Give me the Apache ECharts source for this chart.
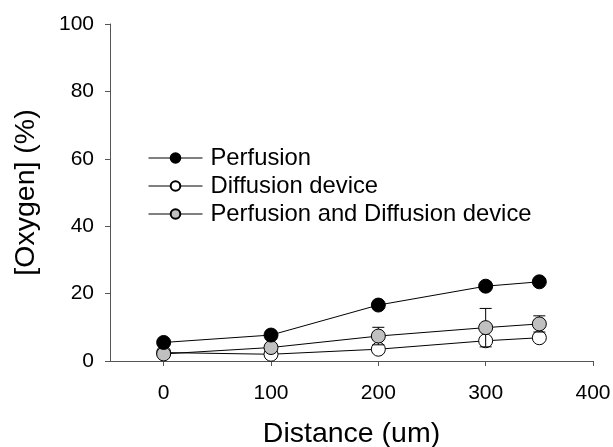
<!DOCTYPE html>
<html><head><meta charset="utf-8">
<script src="https://cdn.jsdelivr.net/npm/echarts@6/dist/echarts.min.js"></script>
<style>html,body{margin:0;padding:0;background:#fff}#c{width:613px;height:447px}</style>
</head><body><div id="c"></div>
<script>
const distances = [0, 100, 200, 300, 350];
const perfusion = [5.5, 7.7, 16.6, 22.2, 23.5];
const diffusion = [2.5, 2.0, 3.5, 6.0, 6.9];
const combined = [2.1, 4.0, 7.4, 9.9, 11.0];
const combinedErr = [0, 0, 2.6, 5.7, 2.4];
const seriesNames = ['Perfusion', 'Diffusion device', 'Perfusion and Diffusion device'];
const xTicks = [0, 100, 200, 300, 400];
const yTicks = [0, 20, 40, 60, 80, 100];

const font = 'Liberation Sans, Arial, sans-serif';
const pairs = a => distances.map((d, i) => [d, a[i]]);
const errData = distances.map((d, i) => [d, combined[i] - combinedErr[i], combined[i] + combinedErr[i]]).filter((r, i) => combinedErr[i] > 0);

const chart = echarts.init(document.getElementById('c'));
const lineStyle = {color: '#000', width: 1};
chart.setOption({
  animation: false,
  grid: {left: 110, right: 20, top: 24, bottom: 86, containLabel: false, outerBoundsMode: 'none'},
  legend: {
    orient: 'vertical', left: 143, top: 141, itemWidth: 54, itemHeight: 12, itemGap: 4,
    lineStyle: {width: 1, color: '#000'},
    textStyle: {fontFamily: font, fontSize: 23.8, color: '#000', padding: [0, 0, 0, 3]},
    data: seriesNames
  },
  xAxis: {
    type: 'value', min: -50, max: 400, interval: 50,
    name: 'Distance (um)', nameLocation: 'middle', nameGap: 59,
    nameTextStyle: {fontFamily: font, fontSize: 28.5, color: '#000'},
    axisLine: {onZero: false, lineStyle: {color: '#555', width: 1}},
    axisTick: {show: true, length: 5, lineStyle: {color: '#555'}, customValues: xTicks},
    axisLabel: {fontFamily: font, fontSize: 21, color: '#000', margin: 22, customValues: xTicks},
    splitLine: {show: false}
  },
  yAxis: {
    type: 'value', min: 0, max: 100, interval: 20,
    name: '[Oxygen] (%)', nameLocation: 'middle', nameGap: 69, nameRotate: 90,
    nameTextStyle: {fontFamily: font, fontSize: 28.5, color: '#000'},
    axisLine: {show: true, onZero: false, lineStyle: {color: '#555', width: 1}},
    axisTick: {show: true, length: 5, lineStyle: {color: '#555'}},
    axisLabel: {fontFamily: font, fontSize: 21, color: '#000', margin: 16},
    splitLine: {show: false}
  },
  series: [
    {name: seriesNames[1], type: 'line', data: pairs(diffusion), symbol: 'circle', symbolSize: 14,
     lineStyle, itemStyle: {color: '#fff', borderColor: '#000', borderWidth: 1}, z: 2},
    {type: 'custom', data: errData, z: 3, silent: true,
     renderItem: (params, api) => {
       const lo = api.coord([api.value(0), api.value(1)]);
       const hi = api.coord([api.value(0), api.value(2)]);
       const w = 6;
       return {type: 'group', children: [
         {type: 'line', shape: {x1: lo[0], y1: lo[1], x2: hi[0], y2: hi[1]}, style: {stroke: '#000', lineWidth: 1}},
         {type: 'line', shape: {x1: hi[0]-w, y1: hi[1], x2: hi[0]+w, y2: hi[1]}, style: {stroke: '#000', lineWidth: 1}},
         {type: 'line', shape: {x1: lo[0]-w, y1: lo[1], x2: lo[0]+w, y2: lo[1]}, style: {stroke: '#000', lineWidth: 1}}
       ]};
     }},
    {name: seriesNames[2], type: 'line', data: pairs(combined), symbol: 'circle', symbolSize: 14,
     lineStyle, itemStyle: {color: '#c0c0c0', borderColor: '#000', borderWidth: 1}, z: 4},
    {name: seriesNames[0], type: 'line', data: pairs(perfusion), symbol: 'circle', symbolSize: 14,
     lineStyle, itemStyle: {color: '#000', borderColor: '#000', borderWidth: 1}, z: 5}
  ]
});
</script></body></html>
